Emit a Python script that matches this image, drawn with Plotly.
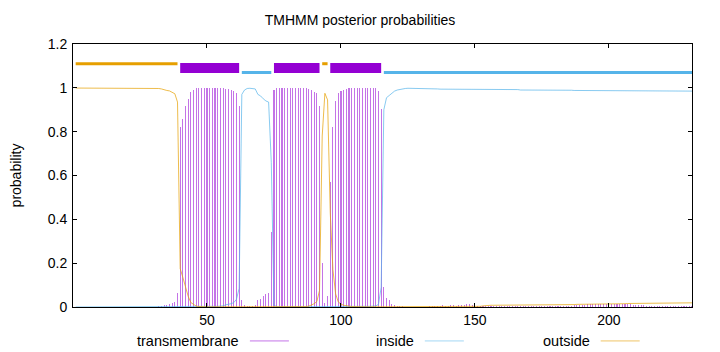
import plotly.graph_objects as go

# ---------------- data (residues 1..231) ----------------
residues = list(range(1, 232))

tm_prob = [
    0.001, 0.001, 0.001, 0.001, 0.001, 0.001, 0.001, 0.001, 0.001, 0.001,
    0.001, 0.001, 0.001, 0.001, 0.001, 0.001, 0.001, 0.001, 0.001, 0.001,
    0.001, 0.001, 0.001, 0.001, 0.001, 0.001, 0.001, 0.001, 0.001, 0.001,
    0.002, 0.003, 0.005, 0.008, 0.010, 0.012, 0.020, 0.025, 0.063, 0.820,
    0.860, 0.915, 0.950, 0.980, 0.990, 0.998, 1.000, 1.000, 1.000, 1.000,
    1.000, 1.000, 1.000, 1.000, 1.000, 0.998, 0.995, 0.993, 0.990, 0.985,
    0.975, 0.915, 0.030, 0.010, 0.004, 0.003, 0.004, 0.008, 0.030, 0.035,
    0.050, 0.060, 0.065, 0.340, 0.990, 1.000, 1.000, 1.000, 1.000, 1.000,
    1.000, 1.000, 1.000, 1.000, 1.000, 1.000, 0.997, 0.994, 0.988, 0.980,
    0.975, 0.915, 0.200, 0.020, 0.050, 0.570, 0.820, 0.940, 0.975, 0.985,
    0.990, 0.995, 1.000, 1.000, 1.000, 1.000, 1.000, 1.000, 1.000, 1.000,
    1.000, 1.000, 1.000, 0.985, 0.905, 0.090, 0.040, 0.030, 0.015, 0.010,
    0.006, 0.004, 0.003, 0.002, 0.002, 0.002, 0.002, 0.002, 0.002, 0.002,
    0.002, 0.002, 0.003, 0.004, 0.005, 0.006, 0.006, 0.007, 0.006, 0.006,
    0.007, 0.007, 0.006, 0.007, 0.008, 0.010, 0.012, 0.015, 0.010, 0.008,
    0.006, 0.005, 0.004, 0.003, 0.003, 0.003, 0.003, 0.003, 0.003, 0.003,
    0.003, 0.003, 0.003, 0.003, 0.003, 0.003, 0.003, 0.003, 0.003, 0.003,
    0.003, 0.003, 0.003, 0.003, 0.003, 0.003, 0.003, 0.003, 0.003, 0.003,
    0.003, 0.003, 0.004, 0.004, 0.005, 0.006, 0.007, 0.008, 0.010, 0.010,
    0.011, 0.012, 0.012, 0.013, 0.012, 0.012, 0.013, 0.014, 0.013, 0.012,
    0.012, 0.013, 0.014, 0.015, 0.014, 0.013, 0.012, 0.012, 0.011, 0.010,
    0.009, 0.008, 0.007, 0.006, 0.005, 0.005, 0.004, 0.004, 0.004, 0.004,
    0.004, 0.004, 0.004, 0.004, 0.004, 0.004, 0.004, 0.004, 0.004, 0.004,
    0.004,
]

inside_prob = [
    0.000, 0.000, 0.000, 0.000, 0.000, 0.000, 0.000, 0.000, 0.000, 0.000,
    0.000, 0.000, 0.000, 0.000, 0.000, 0.000, 0.000, 0.000, 0.000, 0.000,
    0.000, 0.000, 0.000, 0.000, 0.000, 0.000, 0.000, 0.000, 0.000, 0.000,
    0.000, 0.000, 0.000, 0.000, 0.000, 0.000, 0.000, 0.001, 0.001, 0.001,
    0.001, 0.001, 0.001, 0.001, 0.001, 0.001, 0.001, 0.001, 0.001, 0.001,
    0.002, 0.002, 0.003, 0.003, 0.004, 0.005, 0.010, 0.012, 0.015, 0.020,
    0.035, 0.085, 0.970, 0.990, 0.997, 0.998, 0.998, 0.995, 0.970, 0.963,
    0.950, 0.940, 0.935, 0.660, 0.008, 0.002, 0.001, 0.001, 0.000, 0.000,
    0.000, 0.000, 0.000, 0.000, 0.000, 0.000, 0.000, 0.000, 0.000, 0.000,
    0.000, 0.000, 0.000, 0.000, 0.000, 0.000, 0.000, 0.000, 0.000, 0.000,
    0.001, 0.001, 0.001, 0.001, 0.001, 0.001, 0.001, 0.002, 0.002, 0.002,
    0.003, 0.004, 0.005, 0.012, 0.090, 0.900, 0.955, 0.965, 0.975, 0.985,
    0.990, 0.993, 0.995, 0.997, 0.998, 0.998, 0.998, 0.998, 0.998, 0.998,
    0.998, 0.998, 0.998, 0.998, 0.997, 0.995, 0.994, 0.994, 0.994, 0.994,
    0.994, 0.994, 0.994, 0.994, 0.994, 0.994, 0.994, 0.994, 0.994, 0.994,
    0.994, 0.994, 0.994, 0.994, 0.994, 0.994, 0.994, 0.994, 0.994, 0.994,
    0.994, 0.994, 0.994, 0.994, 0.993, 0.992, 0.990, 0.990, 0.991, 0.992,
    0.992, 0.991, 0.990, 0.990, 0.991, 0.992, 0.991, 0.990, 0.990, 0.990,
    0.990, 0.990, 0.990, 0.990, 0.989, 0.989, 0.988, 0.988, 0.986, 0.985,
    0.985, 0.985, 0.985, 0.985, 0.985, 0.985, 0.985, 0.985, 0.985, 0.985,
    0.985, 0.985, 0.985, 0.985, 0.985, 0.985, 0.985, 0.985, 0.985, 0.985,
    0.985, 0.985, 0.985, 0.985, 0.985, 0.985, 0.985, 0.985, 0.985, 0.985,
    0.985, 0.985, 0.985, 0.985, 0.985, 0.985, 0.985, 0.985, 0.985, 0.985,
    0.985,
]

outside_prob = [
    0.999, 0.999, 0.999, 0.999, 0.999, 0.999, 0.999, 0.999, 0.999, 0.999,
    0.999, 0.999, 0.999, 0.999, 0.999, 0.999, 0.999, 0.999, 0.999, 0.999,
    0.999, 0.999, 0.999, 0.999, 0.999, 0.999, 0.999, 0.999, 0.999, 0.999,
    0.998, 0.997, 0.995, 0.990, 0.988, 0.986, 0.980, 0.973, 0.935, 0.175,
    0.135, 0.085, 0.048, 0.020, 0.010, 0.004, 0.002, 0.001, 0.001, 0.001,
    0.001, 0.001, 0.001, 0.000, 0.000, 0.000, 0.000, 0.000, 0.000, 0.000,
    0.000, 0.000, 0.000, 0.000, 0.000, 0.000, 0.000, 0.000, 0.000, 0.000,
    0.000, 0.000, 0.000, 0.000, 0.000, 0.000, 0.000, 0.000, 0.000, 0.000,
    0.000, 0.000, 0.000, 0.000, 0.001, 0.001, 0.002, 0.004, 0.008, 0.015,
    0.025, 0.075, 0.780, 0.975, 0.945, 0.430, 0.170, 0.060, 0.023, 0.013,
    0.008, 0.005, 0.003, 0.002, 0.002, 0.001, 0.001, 0.001, 0.001, 0.001,
    0.001, 0.001, 0.001, 0.001, 0.001, 0.001, 0.001, 0.001, 0.001, 0.001,
    0.001, 0.001, 0.001, 0.001, 0.001, 0.001, 0.001, 0.001, 0.001, 0.001,
    0.001, 0.001, 0.001, 0.001, 0.001, 0.001, 0.001, 0.001, 0.001, 0.001,
    0.001, 0.001, 0.001, 0.001, 0.001, 0.001, 0.001, 0.001, 0.001, 0.002,
    0.002, 0.003, 0.005, 0.007, 0.008, 0.008, 0.008, 0.008, 0.008, 0.008,
    0.008, 0.008, 0.008, 0.008, 0.008, 0.009, 0.009, 0.009, 0.009, 0.009,
    0.009, 0.009, 0.009, 0.010, 0.010, 0.010, 0.010, 0.010, 0.010, 0.011,
    0.011, 0.011, 0.011, 0.011, 0.011, 0.011, 0.011, 0.012, 0.012, 0.012,
    0.012, 0.012, 0.012, 0.012, 0.012, 0.013, 0.013, 0.013, 0.013, 0.013,
    0.014, 0.014, 0.014, 0.015, 0.015, 0.015, 0.016, 0.016, 0.017, 0.018,
    0.018, 0.018, 0.018, 0.018, 0.018, 0.018, 0.018, 0.019, 0.019, 0.019,
    0.019, 0.019, 0.019, 0.019, 0.019, 0.019, 0.019, 0.019, 0.019, 0.019,
    0.019,
]

# predicted topology
seg_start = [1, 40, 63, 75, 93, 96, 116]
seg_end = [39, 62, 74, 92, 95, 115, 231]
seg_type = ["outside", "TMhelix", "inside", "TMhelix", "outside", "TMhelix", "inside"]

legend_labels = ["transmembrane", "inside", "outside"]

# ---------------- styling ----------------
FONT = "Liberation Sans"
C_TM = "#9400D3"
C_IN = "#56B4E9"
C_OUT = "#E69F00"
seg_style = {
    "outside": (1.11, C_OUT, 3),
    "inside": (1.07, C_IN, 3),
    "TMhelix": (1.09, C_TM, 10),
}

fig = go.Figure()

# transmembrane impulses
fig.add_trace(go.Bar(
    x=residues, y=tm_prob, width=0.4,
    marker=dict(color="rgba(148,0,211,0.55)", line=dict(width=0)),
    showlegend=False, hoverinfo="skip",
))
fig.add_trace(go.Scatter(
    x=residues, y=inside_prob, mode="lines",
    line=dict(color="rgba(86,180,233,0.7)", width=1),
    showlegend=False, hoverinfo="skip",
))
fig.add_trace(go.Scatter(
    x=residues, y=outside_prob, mode="lines",
    line=dict(color="rgba(230,159,0,0.7)", width=1),
    showlegend=False, hoverinfo="skip",
))

# topology bars
for s, e, t in zip(seg_start, seg_end, seg_type):
    yv, col, w = seg_style[t]
    fig.add_trace(go.Scatter(
        x=[s, e], y=[yv, yv], mode="lines",
        line=dict(color=col, width=w),
        showlegend=False, hoverinfo="skip",
    ))

# gnuplot-style legend below the plot (text, then sample line)
leg_alpha = ["rgba(148,0,211,0.55)", "rgba(86,180,233,0.55)", "rgba(230,159,0,0.6)"]
text_right = [0.2713, 0.5539, 0.8380]
for lab, xr, lc in zip(legend_labels, text_right, leg_alpha):
    fig.add_annotation(
        x=xr, y=-0.129, xref="paper", yref="paper", text=lab,
        showarrow=False, xanchor="right", yanchor="middle",
        font=dict(family=FONT, size=14.5, color="#000000"),
    )
    fig.add_shape(
        type="line", xref="paper", yref="paper",
        x0=xr + 0.0145, x1=xr + 0.0775, y0=-0.129, y1=-0.129,
        line=dict(color=lc, width=1),
    )

fig.update_layout(
    width=720, height=352,
    margin=dict(l=73, r=28, t=44, b=45),
    paper_bgcolor="white", plot_bgcolor="white",
    font=dict(family=FONT, size=14, color="#000000"),
    title=dict(text="TMHMM posterior probabilities", x=0.5, xanchor="center",
               y=1 - 20 / 352, yanchor="middle", yref="container",
               font=dict(family=FONT, size=14, color="#000000")),
    bargap=0,
    showlegend=False,
)
fig.update_xaxes(
    range=[0, 231], tickvals=[50, 100, 150, 200],
    showgrid=False, zeroline=False,
    showline=True, linecolor="#000000", linewidth=1, mirror="ticks",
    ticks="inside", ticklen=4, tickcolor="#000000",
)
fig.update_yaxes(
    range=[0, 1.2], tickvals=[0, 0.2, 0.4, 0.6, 0.8, 1.0, 1.2],
    ticktext=["0", "0.2", "0.4", "0.6", "0.8", "1", "1.2"],
    showgrid=False, zeroline=False,
    showline=True, linecolor="#000000", linewidth=1, mirror="ticks",
    ticks="inside", ticklen=4, tickcolor="#000000",
    ticklabelstandoff=2,
    title=dict(text="probability", standoff=22, font=dict(family=FONT, size=14)),
)

fig.write_html("out.html")
